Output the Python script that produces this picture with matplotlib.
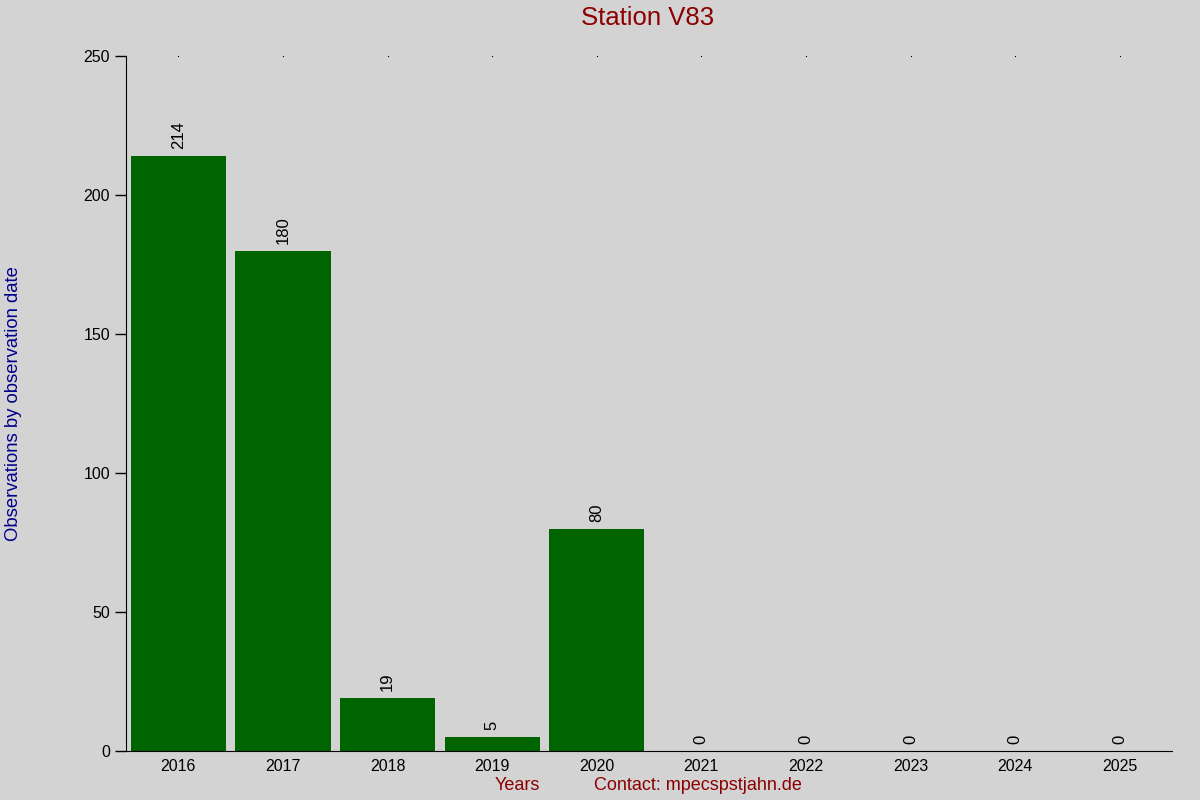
import numpy as np
import matplotlib.pyplot as plt

# Observations per year for station V83
years = ['2016', '2017', '2018', '2019', '2020', '2021', '2022', '2023', '2024', '2025']
counts = [214, 180, 19, 5, 80, 0, 0, 0, 0, 0]

plt.rcParams['font.family'] = ['Liberation Sans', 'DejaVu Sans']

fig = plt.figure(figsize=(12, 8), dpi=100, facecolor='#d3d3d3')
ax = fig.add_axes([0.105, 0.06125, 0.8717, 0.86875])
ax.set_facecolor('#d3d3d3')

x = np.arange(len(years))
ax.bar(x, counts, width=0.91, color='#006400')

for xi, v in zip(x, counts):
    ax.text(xi, v + 2.5, str(v), rotation=90, ha='center', va='bottom', fontsize=12)

ax.set_xlim(-0.5, len(years) - 0.5)
ax.set_ylim(0, 250)
ax.set_xticks(x)
ax.set_xticklabels(years, fontsize=11.5)
ax.set_yticks(np.arange(0, 251, 50))
ax.tick_params(axis='y', labelsize=11.5, length=8, width=1)
ax.tick_params(axis='x', length=0, pad=6)

for s in ['top', 'right']:
    ax.spines[s].set_visible(False)

# tiny marks at top for each year
for xi in x:
    ax.plot([xi], [250], marker='s', markersize=0.8, markeredgewidth=0, color='black', clip_on=False)

fig.text(0.54, 1 - 18 / 800, 'Station V83', color='#8b0000', fontsize=18.5, ha='center', va='center')
ax.set_ylabel('Observations by observation date', color='#00008b', fontsize=13.3, labelpad=44)

fig.text(517 / 1200, 1 - 786 / 800, 'Years', color='#8b0000', fontsize=13, ha='center', va='center')
fig.text(698 / 1200, 1 - 786 / 800, 'Contact: mpecspstjahn.de', color='#8b0000', fontsize=13,
         ha='center', va='center')

fig.savefig('out.png', dpi=100, facecolor=fig.get_facecolor())
